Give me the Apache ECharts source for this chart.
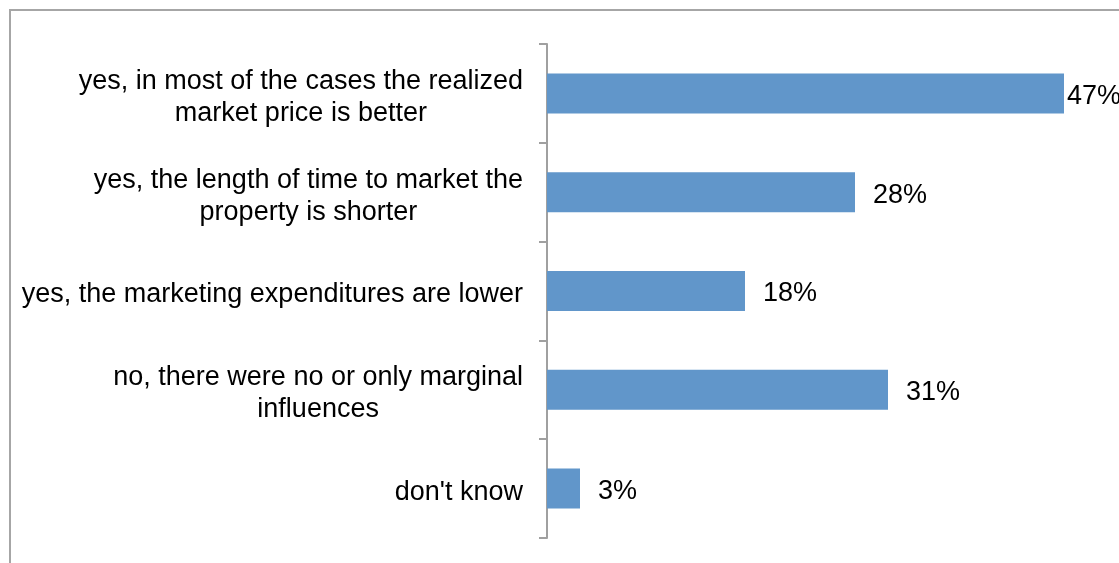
<!DOCTYPE html>
<html>
<head>
<meta charset="utf-8">
<script src="https://cdn.jsdelivr.net/npm/echarts@6/dist/echarts.min.js"></script>
<style>
  html, body { margin: 0; padding: 0; background: #fff; }
  #chart { width: 1119px; height: 563px; }
</style>
</head>
<body>
<div id="chart"></div>
<script>
  // data
  const categories = [
    'yes, in most of the cases the realized\nmarket price is better',
    'yes, the length of time to market the\nproperty is shorter',
    'yes, the marketing expenditures are lower',
    'no, there were no or only marginal\ninfluences',
    "don't know"
  ];
  const shares = [47, 28, 18, 31, 3]; // percent

  const chart = echarts.init(document.getElementById('chart'));

  const option = {
    animation: false,
    textStyle: { fontFamily: '"Liberation Sans", Arial, sans-serif' },
    graphic: [
      {
        type: 'rect',
        shape: { x: 10, y: 10, width: 1300, height: 700 },
        style: { fill: 'none', stroke: '#a6a6a6', lineWidth: 2 },
        silent: true
      }
    ],
    grid: { left: 547, top: 44, width: 550, height: 494 },
    xAxis: {
      type: 'value',
      min: 0,
      max: 50,
      show: false
    },
    yAxis: {
      type: 'category',
      data: categories,
      inverse: true,
      axisLine: { show: true, lineStyle: { color: '#a0a0a0', width: 2 } },
      axisTick: { show: true, length: 8, lineStyle: { color: '#a0a0a0', width: 2 } },
      axisLabel: {
        margin: 24,
        color: '#000',
        fontSize: 27,
        padding: [8, 0, 0, 0],
        formatter: function (v) {
          return v.split('\n').map(function (s) { return '{c|' + s + '}'; }).join('\n');
        },
        rich: {
          c: { align: 'center', fontSize: 27, lineHeight: 32, color: '#000' }
        }
      }
    },
    series: [
      {
        type: 'bar',
        data: shares.map(function (v, i) {
          return i === 0 ? { value: v, label: { distance: 3 } } : v;
        }),
        barWidth: 40,
        itemStyle: { color: '#6196ca' },
        label: {
          show: true,
          position: 'right',
          distance: 18,
          offset: [0, 3],
          color: '#000',
          fontSize: 27,
          formatter: '{c}%'
        }
      }
    ]
  };

  chart.setOption(option);
</script>
</body>
</html>
